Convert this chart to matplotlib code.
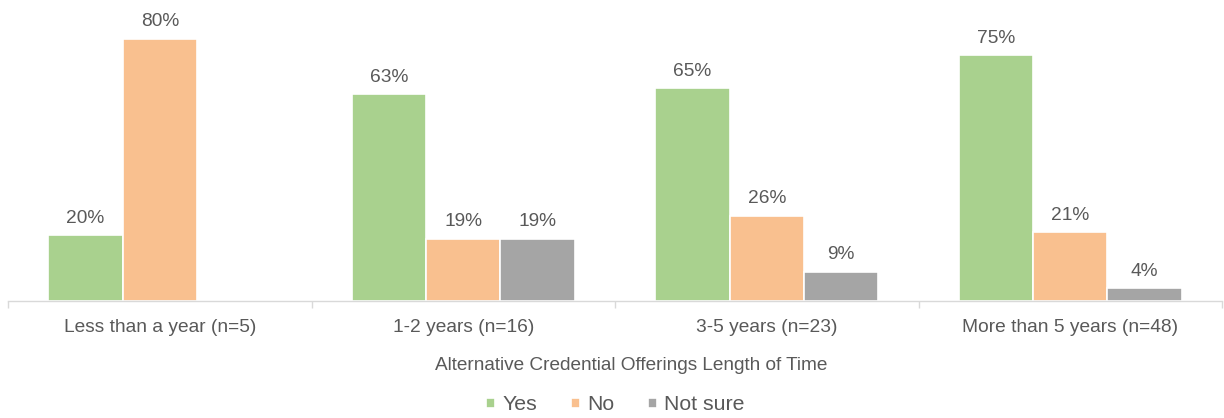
import matplotlib
matplotlib.use("Agg")
import matplotlib.pyplot as plt
import numpy as np

categories = ["Less than a year (n=5)", "1-2 years (n=16)", "3-5 years (n=23)", "More than 5 years (n=48)"]
series_names = ["Yes", "No", "Not sure"]
yes_vals = [20, 63, 65, 75]
no_vals = [80, 19, 26, 21]
notsure_vals = [None, 19, 9, 4]
colors = ["#A9D18E", "#F9C08F", "#A5A5A5"]

plt.rcParams['font.family'] = ['Liberation Sans', 'DejaVu Sans']
text_color = "#595959"

W, H = 1224, 418
fig = plt.figure(figsize=(W / 100, H / 100), dpi=100)
ax_left, ax_right = 8, 1222
ax_bottom_px, ax_top_px = 301, 6
ax = fig.add_axes([ax_left / W, (H - ax_bottom_px) / H, (ax_right - ax_left) / W, (ax_bottom_px - ax_top_px) / H])

x = np.arange(len(categories))
bw = 0.245
all_vals = [yes_vals, no_vals, notsure_vals]
for i, (vals, name, col) in enumerate(zip(all_vals, series_names, colors)):
    xs = x + (i - 1) * bw
    hv = [v if v is not None else 0 for v in vals]
    ax.bar(xs, hv, width=bw, color=col, edgecolor="white", linewidth=1.2, label=name)
    for xi, v in zip(xs, vals):
        if v is None:
            continue
        ax.annotate(f"{v}%", (xi, v), xytext=(0, 6), textcoords="offset points",
                    ha="center", va="bottom", fontsize=13.8, color=text_color)

ax.set_xlim(-0.5, len(categories) - 0.5)
ax.set_ylim(0, 90)
ax.set_yticks([])
for s in ["top", "right", "left"]:
    ax.spines[s].set_visible(False)
ax.spines["bottom"].set_color("#D9D9D9")
ax.spines["bottom"].set_linewidth(1.0)

ax.set_xticks(np.arange(len(categories) + 1) - 0.5)
ax.set_xticklabels([])
ax.tick_params(axis="x", which="major", length=5, color="#D9D9D9", width=1.0)
ax.set_xticks(x, minor=True)
ax.set_xticklabels(categories, minor=True, fontsize=13.8, color=text_color)
ax.tick_params(axis="x", which="minor", length=0, pad=13)

fig.text(631 / W, 1 - 365 / H, "Alternative Credential Offerings Length of Time",
         ha="center", va="center", fontsize=13.7, color=text_color)

leg = fig.legend(loc="center", bbox_to_anchor=(615.5 / W, 1 - 405 / H), ncol=3, frameon=False,
                 fontsize=15.3, handlelength=0.4, handleheight=0.4, handletextpad=0.35,
                 columnspacing=1.6, labelcolor=text_color)

fig.savefig("out.png", dpi=100)
